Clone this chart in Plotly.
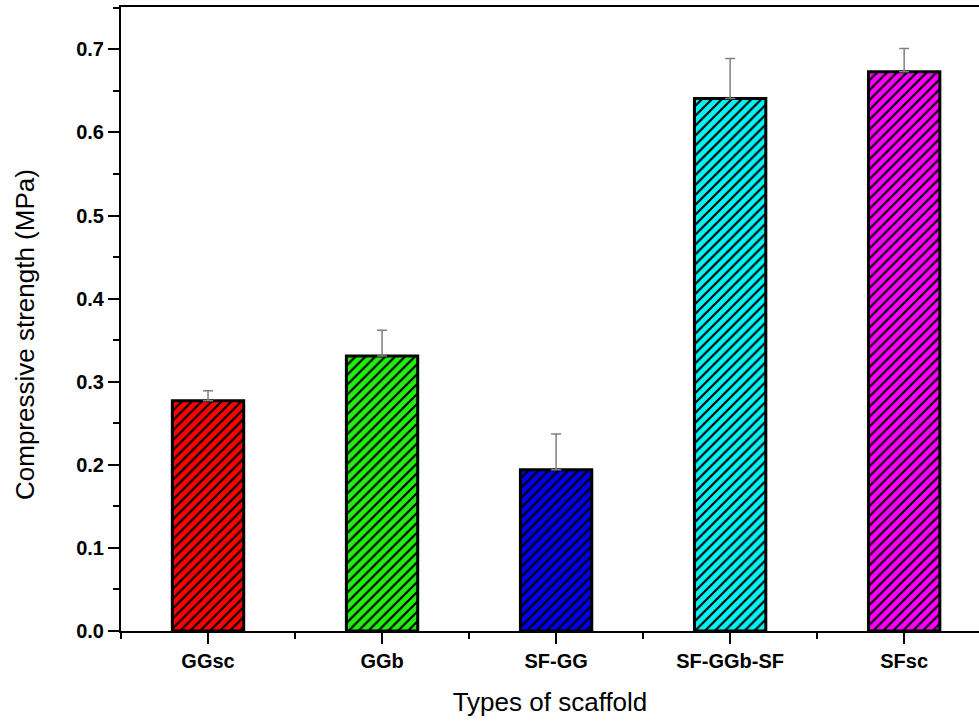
import plotly.graph_objects as go

# Scaffold types and measured compressive strength (MPa)
scaffolds = ["GGsc", "GGb", "SF-GG", "SF-GGb-SF", "SFsc"]
strength = [0.277, 0.331, 0.194, 0.641, 0.673]
strength_sd = [0.012, 0.031, 0.043, 0.048, 0.028]
bar_colors = ["#ff0000", "#22ee11", "#0000ee", "#00f5f5", "#ff00ff"]

positions = list(range(len(scaffolds)))

fig = go.Figure()
# one hatched bar per scaffold so each keeps its own fill colour
for pos, val, sd, col in zip(positions, strength, strength_sd, bar_colors):
    fig.add_trace(go.Bar(
        x=[pos],
        y=[val],
        width=0.41,
        marker=dict(
            color=col,
            line=dict(color="black", width=3),
            pattern=dict(shape="/", fgcolor="black", bgcolor=col, fgopacity=1,
                         size=7, solidity=0.3, fillmode="replace"),
        ),
        error_y=dict(
            type="data",
            symmetric=False,
            array=[sd],
            arrayminus=[0],
            color="#808080",
            thickness=1.5,
            width=5,
        ),
        showlegend=False,
    ))

axis_font = dict(family="Liberation Sans, Arial, sans-serif", size=20, color="black", weight="bold")
title_font = dict(family="Liberation Sans, Arial, sans-serif", size=26, color="black")

fig.update_layout(
    width=979,
    height=721,
    margin=dict(l=121, r=0, t=7, b=90),
    plot_bgcolor="white",
    paper_bgcolor="white",
    barmode="overlay",
    xaxis=dict(
        range=[-0.5, 4.43],
        tickmode="array",
        tickvals=positions,
        ticktext=scaffolds,
        tickfont=axis_font,
        ticks="outside",
        ticklen=11,
        tickwidth=2,
        tickcolor="black",
        showline=True,
        linecolor="black",
        linewidth=2,
        mirror=True,
        showgrid=False,
        zeroline=False,
        minor=dict(ticks="outside", tick0=0.5, dtick=1, ticklen=6, tickwidth=2, tickcolor="black", showgrid=False),
        title=dict(text="Types of scaffold", font=title_font, standoff=22),
    ),
    yaxis=dict(
        range=[0, 0.751],
        tickmode="linear",
        tick0=0,
        dtick=0.1,
        tickformat=".1f",
        tickfont=axis_font,
        ticks="outside",
        ticklen=11,
        tickwidth=2,
        tickcolor="black",
        showline=True,
        linecolor="black",
        linewidth=2,
        showgrid=False,
        zeroline=False,
        minor=dict(ticks="outside", dtick=0.05, ticklen=6, tickwidth=2, tickcolor="black", showgrid=False),
    ),
    annotations=[dict(
        text="Compressive strength (MPa)",
        font=title_font,
        textangle=-90,
        xref="paper", yref="paper",
        x=-96 / 858, y=296 / 624,
        xanchor="center", yanchor="middle",
        showarrow=False,
    )],
)

fig.write_html("out.html")
